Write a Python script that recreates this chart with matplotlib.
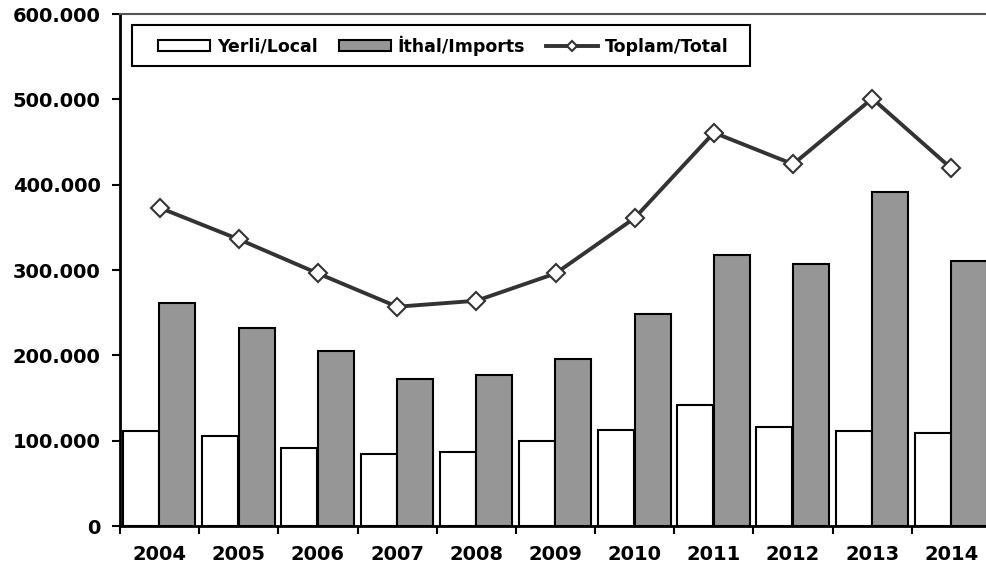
import numpy as np
import matplotlib
matplotlib.use("Agg")
import matplotlib.pyplot as plt
from matplotlib.ticker import FuncFormatter, FixedLocator
from matplotlib.patches import Rectangle

years = ["2004", "2005", "2006", "2007", "2008", "2009", "2010", "2011", "2012", "2013", "2014"]
local = [111000, 105500, 91000, 84000, 87000, 99500, 112500, 142000, 116000, 111000, 109000]
imports = [261000, 232000, 205000, 172000, 177000, 196000, 248500, 318000, 307000, 391500, 311000]
total = [373000, 336000, 296000, 257000, 264000, 296000, 361000, 461000, 424000, 501000, 419000]

plt.rcParams['font.family'] = ['DejaVu Sans']
plt.rcParams['font.weight'] = 'bold'

fig = plt.figure(figsize=(9.87, 5.73), dpi=100)
ax = fig.add_axes([0.1216, 0.082, 0.8825, 0.8935])

x = np.arange(len(years))
w = 0.455
b1 = ax.bar(x - 0.235, local, w, color='white', edgecolor='black', linewidth=1.5, label='Yerli/Local', zorder=2)
b2 = ax.bar(x + 0.225, imports, w, color='#969696', edgecolor='black', linewidth=1.5, label='İthal/Imports', zorder=2)
l1, = ax.plot(x, total, color='#333333', linewidth=2.8, marker='D', markersize=9,
              markerfacecolor='white', markeredgecolor='#333333', markeredgewidth=1.5,
              label='Toplam/Total', zorder=3)

ax.set_xlim(-0.5, len(years) - 0.5)
ax.set_ylim(0, 600000)
ax.set_yticks(np.arange(0, 600001, 100000))
ax.yaxis.set_major_formatter(FuncFormatter(lambda v, p: f"{v:,.0f}".replace(",", ".")))

ax.set_xticks(x)
ax.set_xticklabels(years)
ax.xaxis.set_minor_locator(FixedLocator(np.arange(-0.5, len(years), 1.0)))
ax.tick_params(axis='x', which='major', length=0, pad=14, labelsize=14)
ax.tick_params(axis='x', which='minor', length=6, width=1.5, direction='out')
ax.tick_params(axis='y', length=6, width=1.5, direction='out', pad=8, labelsize=14)
for lab in ax.get_xticklabels() + ax.get_yticklabels():
    lab.set_fontweight('bold')

ax.spines['left'].set_linewidth(2)
ax.spines['bottom'].set_linewidth(2)
ax.spines['top'].set_color('#555555')
ax.spines['top'].set_linewidth(1.5)
ax.spines['right'].set_visible(False)

# legend box drawn separately so its padding matches the original
ax.add_patch(Rectangle((0.0138, 0.8984), 0.7095, 0.0801, transform=ax.transAxes,
                       facecolor='white', edgecolor='black', linewidth=1.5, zorder=4,
                       clip_on=False))
leg = ax.legend([b1, b2, l1], ['Yerli/Local', 'İthal/Imports', 'Toplam/Total'],
                loc='center left', bbox_to_anchor=(0.0436, 0.9385), ncol=3, frameon=False,
                borderaxespad=0, borderpad=0, handlelength=3.0, handleheight=0.55,
                columnspacing=1.2, handletextpad=0.4,
                prop={'weight': 'bold', 'size': 12.5})
leg.set_zorder(5)
for line in leg.get_lines():
    line.set_markersize(5)

fig.savefig("out.png", dpi=100)
